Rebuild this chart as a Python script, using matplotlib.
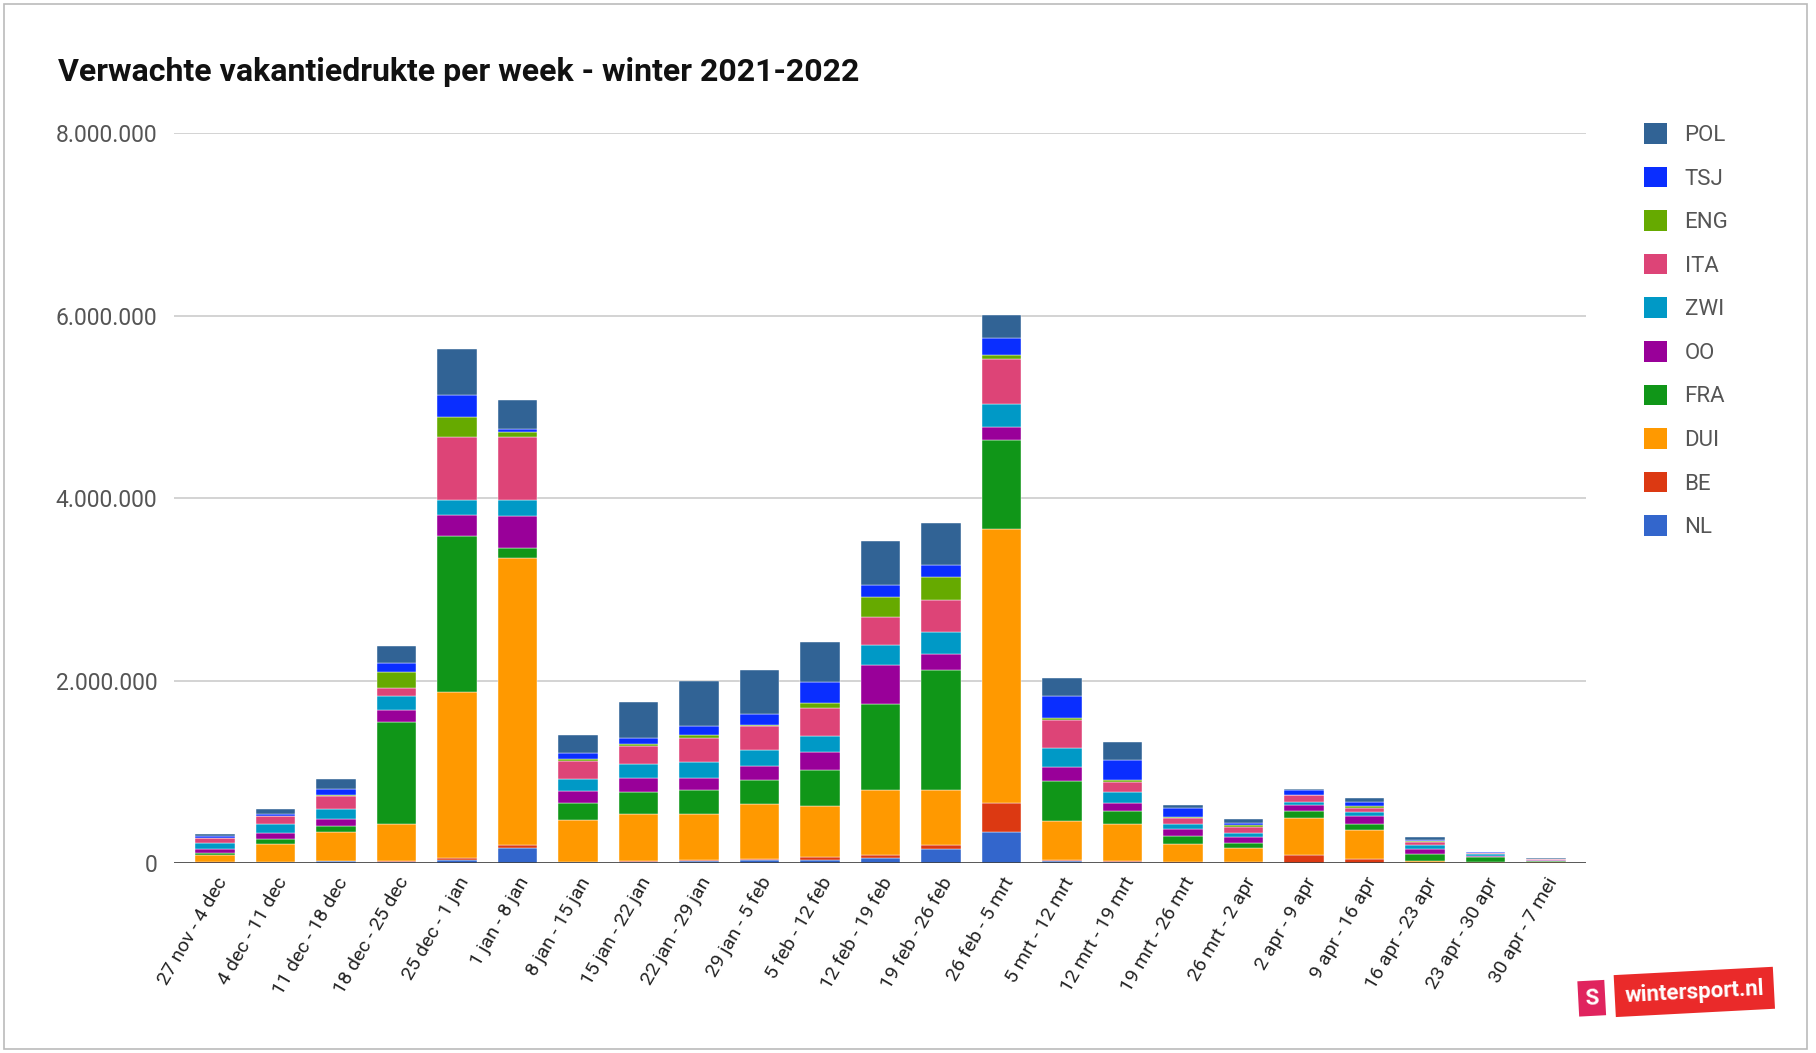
import matplotlib
matplotlib.use("Agg")
import matplotlib.pyplot as plt
from matplotlib.patches import Patch, Rectangle
from matplotlib.ticker import FuncFormatter

plt.rcParams["font.family"] = ["Roboto", "DejaVu Sans"]

# Weeks (x categories)
weeks = ["27 nov - 4 dec", "4 dec - 11 dec", "11 dec - 18 dec", "18 dec - 25 dec",
         "25 dec - 1 jan", "1 jan - 8 jan", "8 jan - 15 jan", "15 jan - 22 jan",
         "22 jan - 29 jan", "29 jan - 5 feb", "5 feb - 12 feb", "12 feb - 19 feb",
         "19 feb - 26 feb", "26 feb - 5 mrt", "5 mrt - 12 mrt", "12 mrt - 19 mrt",
         "19 mrt - 26 mrt", "26 mrt - 2 apr", "2 apr - 9 apr", "9 apr - 16 apr",
         "16 apr - 23 apr", "23 apr - 30 apr", "30 apr - 7 mei"]

# Values in millions, per country (stacked bottom -> top)
nl = [0.005, 0.008, 0.017, 0.015, 0.03, 0.16, 0.007, 0.01, 0.025, 0.03, 0.03, 0.05,
      0.159, 0.335, 0.026, 0.011, 0.005, 0.005, 0.005, 0.005, 0.001, 0.001, 0.001]
be = [0.002, 0.003, 0.005, 0.01, 0.02, 0.04, 0.004, 0.012, 0.005, 0.014, 0.037, 0.037,
      0.037, 0.32, 0.011, 0.015, 0.002, 0.002, 0.08, 0.04, 0.002, 0.001, 0.001]
dui = [0.084, 0.194, 0.314, 0.407, 1.82, 3.14, 0.457, 0.514, 0.506, 0.603, 0.561, 0.714,
       0.603, 3.01, 0.426, 0.40, 0.197, 0.156, 0.406, 0.321, 0.015, 0.01, 0.007]
fra = [0.022, 0.062, 0.066, 1.117, 1.71, 0.11, 0.186, 0.24, 0.26, 0.262, 0.389, 0.942,
       1.319, 0.975, 0.441, 0.148, 0.089, 0.059, 0.081, 0.062, 0.078, 0.055, 0.018]
oo = [0.044, 0.062, 0.084, 0.127, 0.23, 0.35, 0.13, 0.156, 0.137, 0.152, 0.196, 0.422,
      0.178, 0.143, 0.152, 0.089, 0.077, 0.063, 0.066, 0.085, 0.063, 0.01, 0.002]
zwi = [0.066, 0.095, 0.11, 0.153, 0.17, 0.18, 0.135, 0.151, 0.177, 0.177, 0.177, 0.221,
       0.24, 0.247, 0.2, 0.111, 0.056, 0.048, 0.03, 0.048, 0.037, 0.02, 0.008]
ita = [0.05, 0.09, 0.134, 0.09, 0.69, 0.69, 0.2, 0.204, 0.26, 0.262, 0.314, 0.307,
       0.351, 0.497, 0.314, 0.115, 0.063, 0.063, 0.076, 0.044, 0.04, 0.015, 0.002]
eng = [0.003, 0.005, 0.02, 0.178, 0.22, 0.05, 0.02, 0.022, 0.03, 0.008, 0.045, 0.222,
       0.248, 0.04, 0.019, 0.018, 0.018, 0.026, 0.005, 0.019, 0.01, 0.003, 0.001]
tsj = [0.016, 0.015, 0.066, 0.10, 0.24, 0.035, 0.07, 0.063, 0.103, 0.122, 0.24, 0.13,
       0.129, 0.187, 0.244, 0.219, 0.093, 0.022, 0.055, 0.044, 0.005, 0.002, 0.001]
pol = [0.022, 0.06, 0.10, 0.178, 0.50, 0.315, 0.19, 0.395, 0.49, 0.488, 0.436, 0.48,
       0.462, 0.25, 0.193, 0.196, 0.037, 0.037, 0.011, 0.041, 0.037, 0.003, 0.015]

names = ["NL", "BE", "DUI", "FRA", "OO", "ZWI", "ITA", "ENG", "TSJ", "POL"]
series = [nl, be, dui, fra, oo, zwi, ita, eng, tsj, pol]
colors = ["#3366cc", "#dc3912", "#ff9900", "#109618", "#990099",
          "#0099c6", "#dd4477", "#66aa00", "#0a2eff", "#316395"]

fig = plt.figure(figsize=(18.16, 10.53), dpi=100)
ax = fig.add_axes([0.0958, 0.1804, 0.7775, 0.6933])

x = list(range(len(weeks)))
bottom = [0.0] * len(weeks)
for name, vals, col in zip(names, series, colors):
    v = [a * 1e6 for a in vals]
    ax.bar(x, v, width=0.65, bottom=bottom, color=col, edgecolor="white",
           linewidth=0.3, label=name, zorder=3)
    bottom = [b + a for b, a in zip(bottom, v)]

ax.set_xlim(-0.68, 22.66)
ax.set_ylim(0, 8e6)
ax.set_yticks([0, 2e6, 4e6, 6e6, 8e6])
ax.yaxis.set_major_formatter(FuncFormatter(lambda v, p: f"{int(v):,}".replace(",", ".")))
ax.grid(axis="y", color="#cccccc", linewidth=1.2, zorder=0)
ax.axhline(0, color="#333333", linewidth=1.8, zorder=4)
for s in ax.spines.values():
    s.set_visible(False)
ax.tick_params(axis="y", length=0, labelsize=16.5, labelcolor="#555555", pad=12)
ax.tick_params(axis="x", length=0, labelsize=14, labelcolor="#222222", pad=8)
ax.set_xticks(x)
ax.set_xticklabels(weeks, rotation=60, ha="right", rotation_mode="anchor")

# legend, top entry = POL
handles = [Patch(facecolor=c, label=n) for n, c in zip(names[::-1], colors[::-1])]
fig.legend(handles=handles, loc="upper left", bbox_to_anchor=(0.894, 0.902),
           frameon=False, fontsize=16, labelcolor="#555555", handlelength=1.05,
           handleheight=1.05, handletextpad=0.8, labelspacing=0.93)

fig.text(58 / 1816, 0.932, "Verwachte vakantiedrukte per week - winter 2021-2022",
         fontsize=23, fontweight="bold", color="#111111", va="center", ha="left")

# logo
fig.text(0.8765, 0.052, "S", fontsize=16, fontweight="bold", color="white",
         ha="center", va="center", rotation=3,
         bbox=dict(boxstyle="square,pad=0.3", facecolor="#e0245e", edgecolor="none"))
fig.text(0.933, 0.058, "wintersport.nl", fontsize=16, fontweight="bold", color="white",
         ha="center", va="center", rotation=3,
         bbox=dict(boxstyle="square,pad=0.45", facecolor="#ea2a2a", edgecolor="none"))

fig.patches.append(Rectangle((0.002, 0.004), 0.993, 0.992, transform=fig.transFigure,
                             fill=False, edgecolor="#bbbbbb", linewidth=1.2))

fig.savefig("out.png", dpi=100)
